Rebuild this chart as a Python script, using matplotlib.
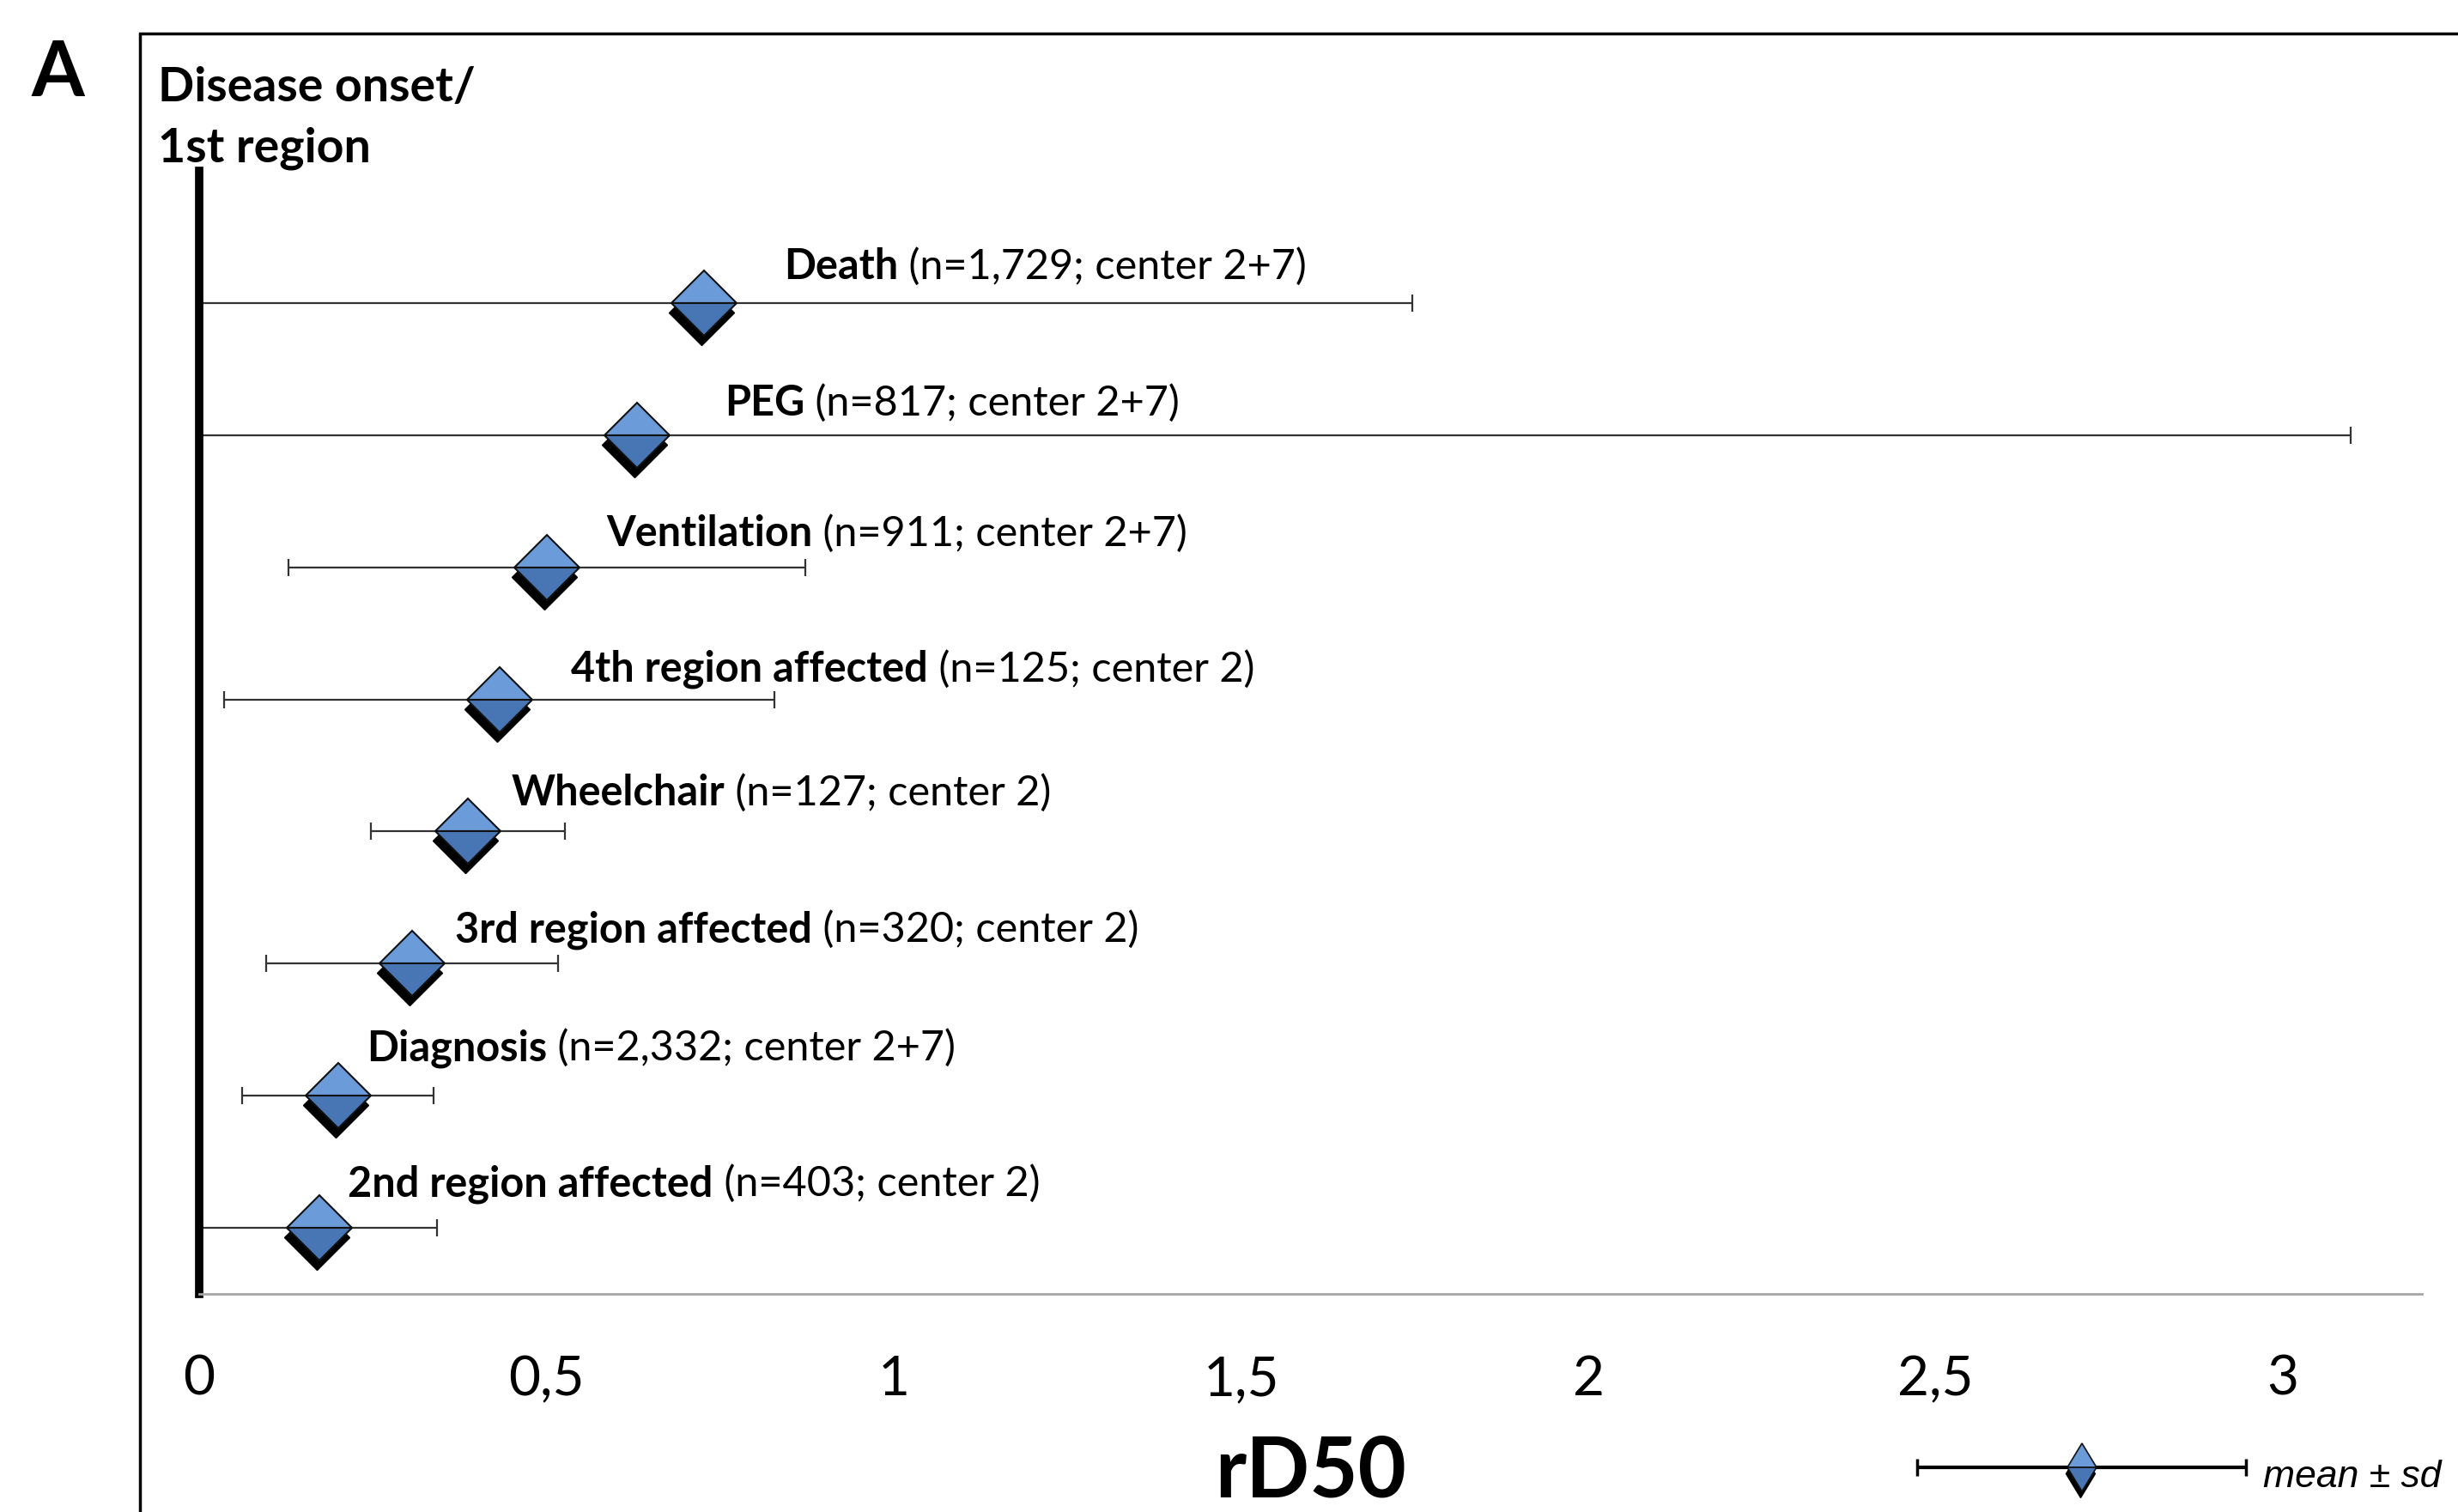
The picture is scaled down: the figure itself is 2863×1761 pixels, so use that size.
import numpy as np
import matplotlib
matplotlib.use('Agg')
import matplotlib.pyplot as plt
from matplotlib.transforms import offset_copy
from matplotlib.patches import Rectangle

# ---- data (bottom row first) ----
events = ['2nd region affected', 'Diagnosis', '3rd region affected', 'Wheelchair',
          '4th region affected', 'Ventilation', 'PEG', 'Death']
details = ['(n=403; center 2)', '(n=2,332; center 2+7)', '(n=320; center 2)',
           '(n=127; center 2)', '(n=125; center 2)', '(n=911; center 2+7)',
           '(n=817; center 2+7)', '(n=1,729; center 2+7)']
means = [0.173, 0.200, 0.307, 0.387, 0.432, 0.501, 0.630, 0.727]
sds = [0.169, 0.138, 0.210, 0.140, 0.396, 0.372, 2.468, 1.020]
xticks = [0, 0.5, 1, 1.5, 2, 2.5, 3]
xticklabels = ['0', '0,5', '1', '1,5', '2', '2,5', '3']

# label placement (data units)
label_x = [0.214, 0.241, 0.368, 0.449, 0.535, 0.586, 0.756, 0.842]
label_dy = [0.24, 0.266, 0.162, 0.20, 0.136, 0.162, 0.15, 0.18]

W, H, DPI = 2863, 1761, 100
fig = plt.figure(figsize=(W / DPI, H / DPI), dpi=DPI)
fig.patch.set_facecolor('white')

ax = fig.add_axes([232 / W, 1 - 1507 / H, (2821 - 232) / W, (1507 - 199) / H])
ax.set_xlim(0, 3.2)
ax.set_ylim(-0.5, 8.0)

means_a = np.array(means)
sds_a = np.array(sds)
ys = np.arange(len(means))
lower = np.minimum(sds_a, means_a)   # bars are clipped at the axis origin

ax.errorbar(means_a, ys, xerr=[lower, sds_a], fmt='none', ecolor='#333333',
            elinewidth=1.6, capsize=7.5, capthick=1.6, zorder=2)

shadow_tr = offset_copy(ax.transData, fig=fig, x=-3, y=-11, units='dots')
ax.plot(means_a, ys, linestyle='none', marker='D', ms=38.5, color='black',
        mec='black', transform=shadow_tr, zorder=3)
ax.plot(means_a, ys, linestyle='none', marker='D', ms=38.5, fillstyle='top',
        markerfacecolor='#6b9bd8', markerfacecoloralt='#4876b5',
        mec='#111111', mew=1.5, zorder=4)

# spines
for s in ['top', 'right']:
    ax.spines[s].set_visible(False)
ax.spines['left'].set_linewidth(7)
ax.spines['left'].set_color('black')
ax.spines['bottom'].set_linewidth(2)
ax.spines['bottom'].set_color('#a6a6a6')
ax.set_yticks([])
ax.set_xticks(xticks)
ax.set_xticklabels(xticklabels)
ax.tick_params(axis='x', length=0, pad=51, labelsize=46)
for t in ax.get_xticklabels():
    t.set_fontfamily('Lato')

# labels: bold name + regular details
bold_texts = []
for i, name in enumerate(events):
    t = ax.text(label_x[i], ys[i] + label_dy[i], name, fontsize=35,
                fontweight='bold', family='Lato', ha='left', va='baseline', zorder=5)
    bold_texts.append(t)
fig.canvas.draw()
r = fig.canvas.get_renderer()
inv = ax.transData.inverted()
for i, t in enumerate(bold_texts):
    bb = t.get_window_extent(renderer=r)
    x1 = inv.transform((bb.x1, bb.y0))[0]
    ax.text(x1, ys[i] + label_dy[i], ' ' + details[i], fontsize=35,
            family='Lato', ha='left', va='baseline', zorder=5)

# axis title
fig.text(0.5 * (232 + 2821) / W, 1 - 1744 / H, 'rD50', fontsize=70, fontweight='bold',
         family='Lato', ha='center', va='baseline')

# top-left annotations
fig.text(36 / W, 1 - 112 / H, 'A', fontsize=64, fontweight='bold',
         family=['Liberation Sans Narrow', 'Lato'], ha='left', va='baseline')
fig.text(184 / W, 1 - 118 / H, 'Disease onset/', fontsize=40, fontweight='bold',
         family='Lato', ha='left', va='baseline')
fig.text(184 / W, 1 - 189 / H, '1st region', fontsize=40, fontweight='bold',
         family='Lato', ha='left', va='baseline')

# frame
fig.add_artist(Rectangle((163 / W, -0.1), 1.2, (1 - 39 / H) + 0.1, fill=False,
                         lw=2.5, ec='black', transform=fig.transFigure))

# legend (mean ± sd)
lx0, lx1, ly = 2233 / W, 2616 / W, 1 - 1709 / H
lax = fig.add_axes([lx0, ly - 0.03, lx1 - lx0, 0.06])
lax.set_xlim(-1, 1)
lax.set_ylim(-1, 1)
lax.axis('off')
lax.errorbar([0], [0], xerr=[[1], [1]], fmt='none', ecolor='black', elinewidth=3,
             capsize=7, capthick=2.5, clip_on=False)
lsh = offset_copy(lax.transData, fig=fig, x=-2, y=-7, units='dots')
lax.plot([0], [0], linestyle='none', marker='d', ms=29, color='black',
         transform=lsh, clip_on=False)
lax.plot([0], [0], linestyle='none', marker='d', ms=29, fillstyle='top',
         markerfacecolor='#6b9bd8', markerfacecoloralt='#4876b5',
         mec='#111111', mew=1.2, clip_on=False)
fig.text(2636 / W, 1 - 1732 / H, 'mean \u00b1 sd', fontsize=32, style='italic',
         family='Liberation Sans', ha='left', va='baseline')

fig.savefig('out.png', dpi=DPI, facecolor='white')
